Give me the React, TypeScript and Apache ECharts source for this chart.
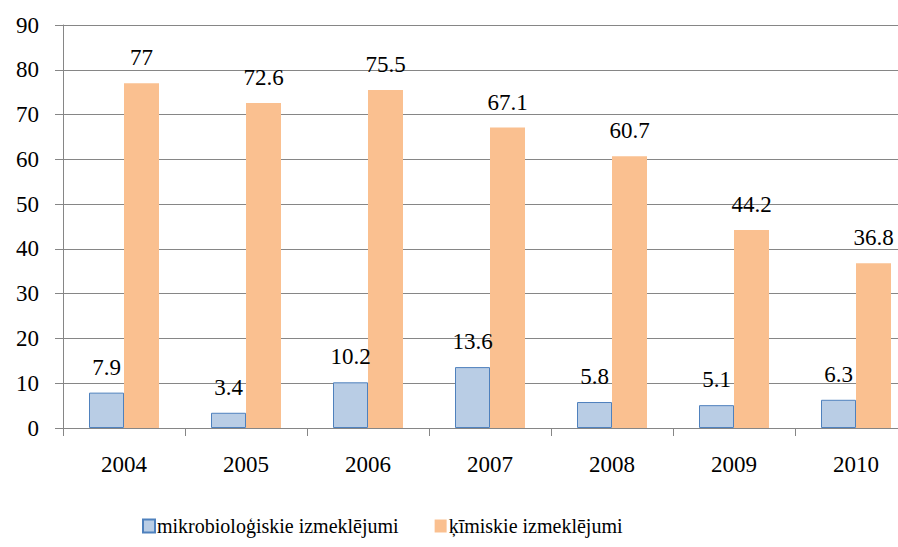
import React, { useEffect, useRef } from "react";
import * as echarts from "echarts";

const categories = ["2004", "2005", "2006", "2007", "2008", "2009", "2010"];
const microValues = [7.9, 3.4, 10.2, 13.6, 5.8, 5.1, 6.3];
const chemValues = [77, 72.6, 75.5, 67.1, 60.7, 44.2, 36.8];
const seriesNames = ["mikrobioloģiskie izmeklējumi", "ķīmiskie izmeklējumi"];

const FONT = "Times New Roman, Liberation Serif, DejaVu Serif, serif";

export default function App() {
  const ref = useRef<HTMLDivElement>(null);
  useEffect(() => {
    if (!ref.current) return;
    const chart = echarts.init(ref.current, undefined, { renderer: "svg" });
    chart.setOption({
      animation: false,
      textStyle: { fontFamily: FONT },
      grid: {
        left: 63,
        top: 25,
        height: 403,
        width: 854,
        containLabel: false,
        outerBoundsMode: "none",
      },
      legend: {
        bottom: 6,
        left: 137,
        itemWidth: 12,
        itemHeight: 13,
        itemGap: 36,
        icon: "rect",
        textStyle: { fontFamily: FONT, fontSize: 20, color: "#000", padding: [0, 0, 0, -3] },
        data: seriesNames,
      },
      xAxis: {
        type: "category",
        data: categories,
        axisLine: { lineStyle: { color: "#868686", width: 1 } },
        axisTick: { show: true, length: 8, lineStyle: { color: "#868686" } },
        axisLabel: { fontFamily: FONT, fontSize: 23, color: "#000", margin: 25 },
      },
      yAxis: {
        type: "value",
        min: 0,
        max: 90,
        interval: 10,
        axisLine: { show: true, lineStyle: { color: "#868686", width: 1 } },
        axisTick: { show: true, length: 8, lineStyle: { color: "#868686" } },
        splitLine: { show: true, lineStyle: { color: "#868686", width: 1 } },
        axisLabel: { fontFamily: FONT, fontSize: 23, color: "#000", margin: 24 },
      },
      series: [
        {
          name: seriesNames[0],
          type: "bar",
          data: microValues,
          barWidth: 35,
          barGap: "0%",
          itemStyle: { color: "#B9CDE5", borderColor: "#4F81BD", borderWidth: 1 },
          label: { show: true, position: "top", distance: 14, fontFamily: FONT, fontSize: 23, color: "#000" },
        },
        {
          name: seriesNames[1],
          type: "bar",
          data: chemValues,
          barWidth: 35,
          barGap: "0%",
          itemStyle: { color: "#FAC090" },
          label: { show: true, position: "top", distance: 14, fontFamily: FONT, fontSize: 23, color: "#000" },
        },
      ],
    });
    return () => chart.dispose();
  }, []);
  return (
    <div
      ref={ref}
      style={{ position: "absolute", left: 0, top: 0, width: 898, height: 547, background: "#fff", overflow: "hidden" }}
    />
  );
}
